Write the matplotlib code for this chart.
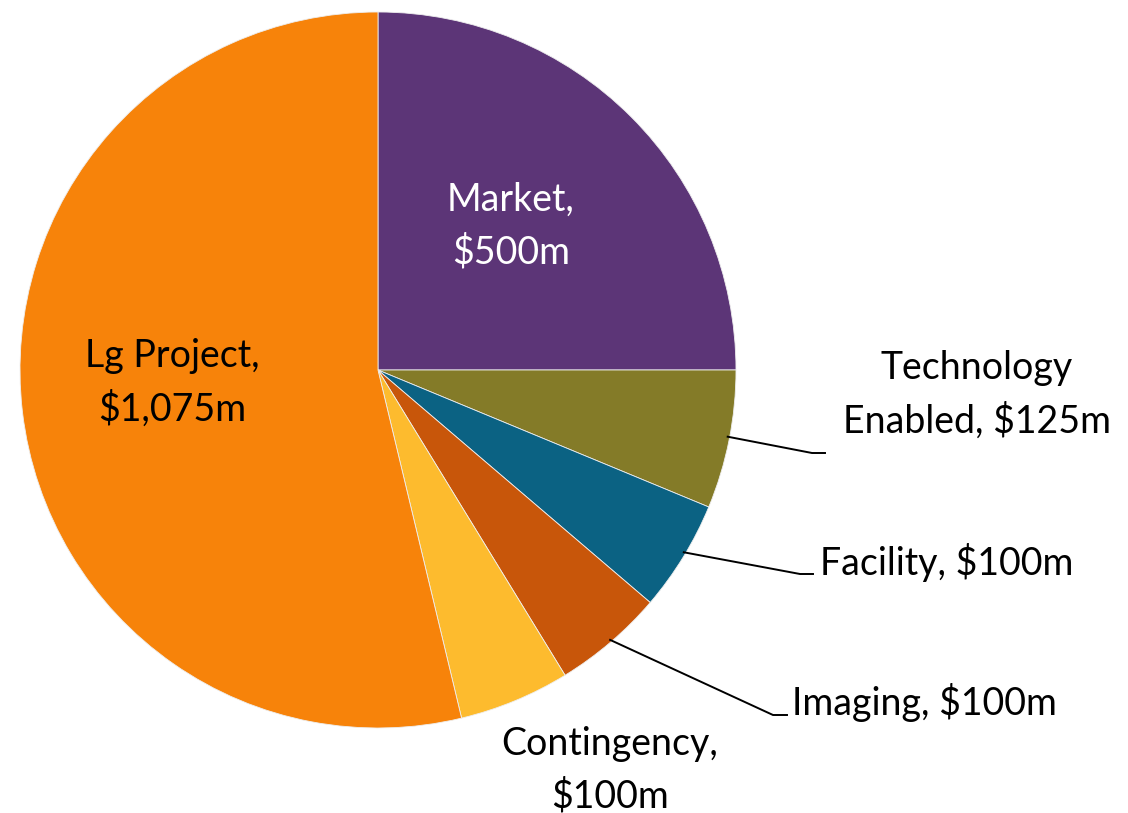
import matplotlib.pyplot as plt
import numpy as np

labels = ["Market", "Technology\nEnabled", "Facility", "Imaging", "Contingency", "Lg Project"]
values = [500, 125, 100, 100, 100, 1075]
colors = ["#5C3577", "#847B28", "#0B6283", "#C8560A", "#FDBB2E", "#F7830A"]

plt.rcParams["font.family"] = ["Lato", "DejaVu Sans"]

W, H = 1128, 813
fig = plt.figure(figsize=(W / 100, H / 100), dpi=100)
ax = fig.add_axes([0, 0, 1, 1])

cx, cy, r = 378, H - 370, 358
wedges, _ = ax.pie(values, colors=colors, startangle=90, counterclock=False,
                   center=(cx, cy), radius=r,
                   wedgeprops=dict(edgecolor="#eeeeee", linewidth=0.6))
# pie resets the limits, so set them afterwards
ax.set_xlim(0, W)
ax.set_ylim(0, H)
ax.set_aspect("equal")
ax.axis("off")

fs = 27
ls = 1.55

# labels inside the pie
ax.text(511, H - 226, "Market,\n$500m", color="white", fontsize=fs,
        ha="center", va="center", linespacing=ls)
ax.text(172, H - 383, "Lg Project,\n$1,075m", color="black", fontsize=fs,
        ha="center", va="center", linespacing=ls)

# outside labels with leader lines
ax.text(977, H - 395, "Technology\nEnabled, $125m", fontsize=fs,
        ha="center", va="center", linespacing=ls)
ax.text(820, H - 563, "Facility, $100m", fontsize=fs, ha="left", va="center")
ax.text(792, H - 702, "Imaging, $100m", fontsize=fs, ha="left", va="center")
ax.text(610, H - 770, "Contingency,\n$100m", fontsize=fs,
        ha="center", va="center", linespacing=ls)

# leader lines: (angle on pie edge, bend point, end x)
leaders = [(-10.8, (812, 453), 825),
           (-30.8, (800, 574), 813),
           (-49.3, (773, 715), 787)]
for ang, (bx, by), ex in leaders:
    a = np.deg2rad(ang)
    sx, sy = cx + (r - 2) * np.cos(a), cy + (r - 2) * np.sin(a)
    ax.plot([sx, bx, ex], [sy, H - by, H - by], color="black", lw=1.4,
            solid_joinstyle="miter")

fig.savefig("out.png", dpi=100, facecolor="white")
